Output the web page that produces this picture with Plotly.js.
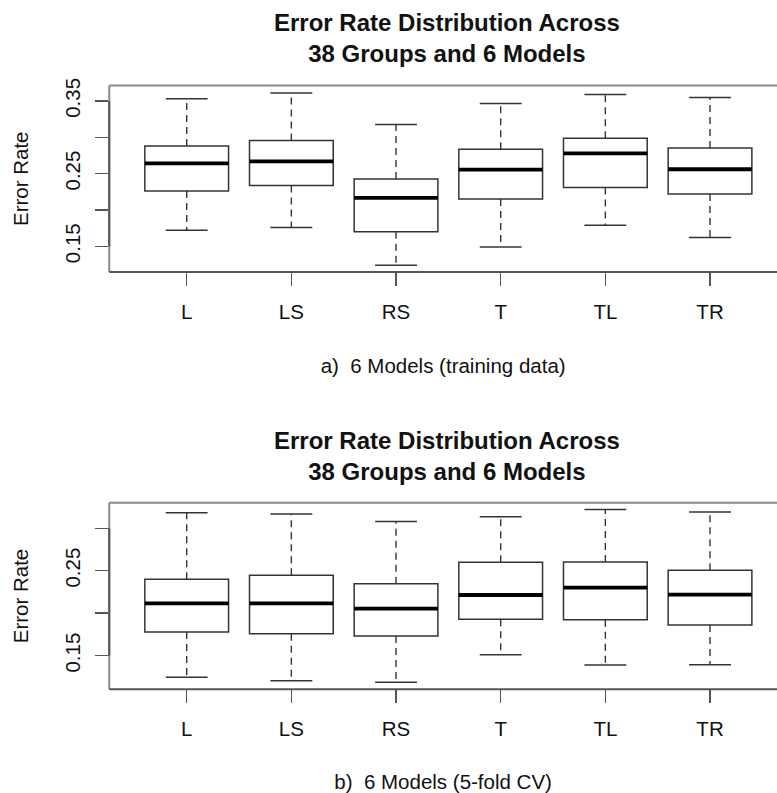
<!DOCTYPE html>
<html>
<head>
<meta charset="utf-8">
<script src="https://cdn.plot.ly/plotly-3.0.1.min.js"></script>
<style>html,body{margin:0;padding:0;background:#fff;}#chart{width:777px;height:793px;}</style>
</head>
<body>
<div id="chart"></div>
<script>
// ---- data ----
var categories = ['L', 'LS', 'RS', 'T', 'TL', 'TR'];

// a) training data
var trainLower  = [0.172, 0.176, 0.124, 0.149, 0.179, 0.162];
var trainQ1     = [0.226, 0.2335, 0.170, 0.215, 0.231, 0.222];
var trainMedian = [0.264, 0.267, 0.2165, 0.2555, 0.278, 0.256];
var trainQ3     = [0.288, 0.2955, 0.2427, 0.2835, 0.2986, 0.2854];
var trainUpper  = [0.353, 0.361, 0.3175, 0.3464, 0.3588, 0.3547];

// b) 5-fold CV
var cvLower  = [0.1246, 0.1206, 0.1187, 0.1512, 0.1391, 0.1394];
var cvQ1     = [0.1779, 0.1759, 0.1732, 0.1928, 0.1924, 0.1861];
var cvMedian = [0.2116, 0.2116, 0.2053, 0.2214, 0.2300, 0.2218];
var cvQ3     = [0.2399, 0.2446, 0.2347, 0.2599, 0.2602, 0.2505];
var cvUpper  = [0.3182, 0.3167, 0.3081, 0.3135, 0.3222, 0.3191];

var titleText = 'Error Rate Distribution Across<br>38 Groups and 6 Models';
var subtitleA = 'a)\u00a0 6 Models (training data)';
var subtitleB = 'b)\u00a0 6 Models (5-fold CV)';
var yTitle = 'Error Rate';
var yTicksA = [0.15, 0.20, 0.25, 0.30, 0.35];
var yTickTextA = ['0.15', '', '0.25', '', '0.35'];
var yTicksB = [0.15, 0.20, 0.25, 0.30];
var yTickTextB = ['0.15', '', '0.25', ''];

// ---- styling ----
var FONT = 'Liberation Sans, Arial, Helvetica, sans-serif';
var BOXW = 0.8, CAPW = 0.4;
var pos = categories.map(function (c, i) { return i + 1; });

function segs(xa, xb, ya, yb) {
  var xs = [], ys = [];
  for (var i = 0; i < xa.length; i++) {
    xs.push(xa[i], xb[i], null);
    ys.push(ya[i], yb[i], null);
  }
  return {x: xs, y: ys};
}

function panel(lower, q1, med, q3, upper, xa, ya) {
  var traces = [];
  traces.push({
    type: 'box', x: pos, q1: q1, median: med, q3: q3,
    lowerfence: q1, upperfence: q3, width: BOXW, whiskerwidth: 0,
    fillcolor: '#ffffff', line: {color: '#333333', width: 1.5},
    xaxis: xa, yaxis: ya, hoverinfo: 'skip', showlegend: false
  });
  // dashed whiskers
  var wu = segs(pos, pos, q3, upper), wl = segs(pos, pos, q1, lower);
  traces.push({
    type: 'scatter', mode: 'lines', x: wu.x.concat(wl.x), y: wu.y.concat(wl.y),
    line: {color: '#333333', width: 1.4, dash: '7px,5px'},
    xaxis: xa, yaxis: ya, hoverinfo: 'skip', showlegend: false
  });
  // staples
  var left = pos.map(function (p) { return p - CAPW / 2; });
  var right = pos.map(function (p) { return p + CAPW / 2; });
  var cu = segs(left, right, upper, upper), cl = segs(left, right, lower, lower);
  traces.push({
    type: 'scatter', mode: 'lines', x: cu.x.concat(cl.x), y: cu.y.concat(cl.y),
    line: {color: '#333333', width: 1.5},
    xaxis: xa, yaxis: ya, hoverinfo: 'skip', showlegend: false
  });
  // thick medians
  var ml = pos.map(function (p) { return p - BOXW / 2; });
  var mr = pos.map(function (p) { return p + BOXW / 2; });
  var m = segs(ml, mr, med, med);
  traces.push({
    type: 'scatter', mode: 'lines', x: m.x, y: m.y,
    line: {color: '#000000', width: 3.8},
    xaxis: xa, yaxis: ya, hoverinfo: 'skip', showlegend: false
  });
  return traces;
}

var data = panel(trainLower, trainQ1, trainMedian, trainQ3, trainUpper, 'x', 'y')
  .concat(panel(cvLower, cvQ1, cvMedian, cvQ3, cvUpper, 'x2', 'y2'));

var H = 793, W = 777;
var xDom = [109.25 / W, 1];
var yDomA = [1 - 272 / H, 1 - 85.5 / H];
var yDomB = [1 - 689.3 / H, 1 - 502.7 / H];

function xAxis(dom, anchor, sub) {
  return {
    domain: dom, anchor: anchor, range: [0.26, 6.64],
    tickvals: pos, ticktext: categories, ticks: 'outside', ticklen: 13,
    tickwidth: 1.5, tickcolor: '#555555', showgrid: false, zeroline: false,
    showline: false, ticklabelstandoff: 8,
    tickfont: {family: FONT, size: 20.5, color: '#111111'},
    title: {text: sub, standoff: 37, font: {family: FONT, size: 20.5, color: '#111111'}}
  };
}
function yAxis(dom, anchor, rng, tv, tt) {
  return {
    domain: dom, anchor: anchor, range: rng, tickvals: tv, ticktext: tt,
    ticks: 'outside', ticklen: 13, tickwidth: 1.5, tickcolor: '#555555',
    tickangle: -90, showgrid: false, zeroline: false, showline: false,
    ticklabelstandoff: 7,
    tickfont: {family: FONT, size: 20.5, color: '#111111'},
    title: {text: yTitle, standoff: 26, font: {family: FONT, size: 20.5, color: '#111111'}}
  };
}

function frame(xr, yr, lo, hi) {
  return [
    {type: 'line', xref: xr + ' domain', yref: yr + ' domain', x0: 0, x1: 1, y0: 1, y1: 1, line: {color: '#8a8a8a', width: 2}},
    {type: 'line', xref: xr + ' domain', yref: yr + ' domain', x0: 0, x1: 0, y0: 0, y1: 1, line: {color: '#8a8a8a', width: 2}},
    {type: 'line', xref: xr + ' domain', yref: yr + ' domain', x0: 0, x1: 1, y0: 0, y1: 0, line: {color: '#555555', width: 2}},
    {type: 'line', xref: xr + ' domain', yref: yr, x0: 0, x1: 0, y0: lo, y1: hi, line: {color: '#555555', width: 2}}
  ];
}

var layout = {
  width: W, height: H, margin: {l: 0, r: 0, t: 0, b: 0},
  paper_bgcolor: '#ffffff', plot_bgcolor: '#ffffff', showlegend: false,
  font: {family: FONT, color: '#111111'},
  xaxis: xAxis(xDom, 'y', subtitleA),
  yaxis: yAxis(yDomA, 'x', [0.1146, 0.3713], yTicksA, yTickTextA),
  xaxis2: xAxis(xDom, 'y2', subtitleB),
  yaxis2: yAxis(yDomB, 'x2', [0.1104, 0.3301], yTicksB, yTickTextB),
  shapes: frame('x', 'y', 0.15, 0.35).concat(frame('x2', 'y2', 0.15, 0.30)),
  annotations: [
    {text: titleText, xref: 'paper', yref: 'paper', x: 447 / W, y: 1 - 37.5 / H,
     xanchor: 'center', yanchor: 'middle', showarrow: false,
     font: {family: FONT, size: 24, color: '#111111', weight: 'bold'}},
    {text: titleText, xref: 'paper', yref: 'paper', x: 447 / W, y: 1 - 455.5 / H,
     xanchor: 'center', yanchor: 'middle', showarrow: false,
     font: {family: FONT, size: 24, color: '#111111', weight: 'bold'}}
  ]
};

Plotly.newPlot('chart', data, layout, {staticPlot: true, displayModeBar: false});
</script>
</body>
</html>
